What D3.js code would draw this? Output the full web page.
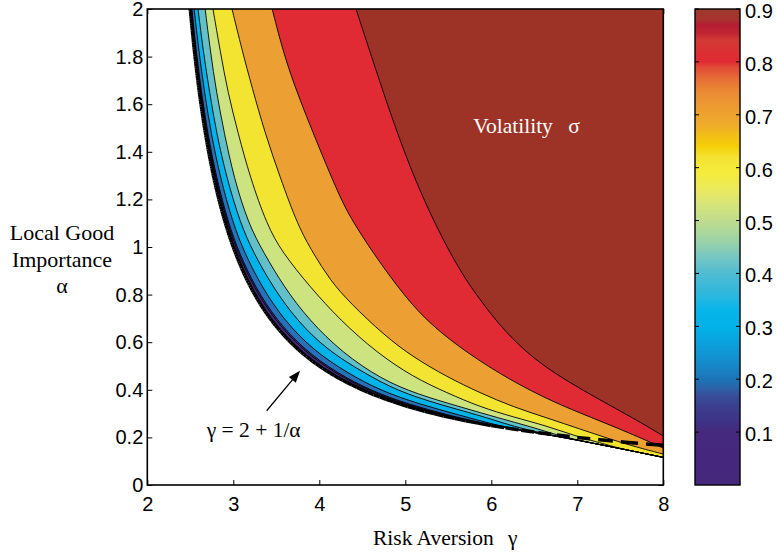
<!DOCTYPE html>
<html><head><meta charset="utf-8">
<script src="https://cdn.jsdelivr.net/npm/d3@7"></script>
<style>body{margin:0;background:#fff}</style></head>
<body><svg id="c" width="776" height="552"></svg>
<script>
// ---------------- data ----------------
const gammaTicks = [2,3,4,5,6,7,8];
const gammaTickLabels = ["2","3","4","5","6","7","8"];
const alphaTicks = [0,0.2,0.4,0.6,0.8,1,1.2,1.4,1.6,1.8,2];
const alphaTickLabels = ["0","0.2","0.4","0.6","0.8","1","1.2","1.4","1.6","1.8","2"];
const cbTicks = [0.1,0.2,0.3,0.4,0.5,0.6,0.7,0.8,0.9];
const cbTickLabels = ["0.1","0.2","0.3","0.4","0.5","0.6","0.7","0.8","0.9"];

// contour lines, [gamma, alpha] pairs, from the top edge downwards
const L0 = [[2.5,2.0],[2.55,1.818],[2.6,1.667],[2.7,1.429],[2.8,1.25],[2.9,1.111],[3.0,1.0],[3.2,0.833],[3.4,0.714],[3.6,0.625],[3.8,0.556],[4.0,0.5],[4.3,0.435],[4.6,0.385],[5.0,0.333],[5.5,0.286],[6.0,0.25],[6.5,0.221],[7.0,0.189],[7.5,0.153],[8.0,0.116]];
const L1 = [[2.512,2.0],[2.560,1.828],[2.622,1.647],[2.693,1.479],[2.792,1.294],[2.930,1.101],[3.053,0.975],[3.236,0.832],[3.481,0.693],[3.806,0.567],[4.175,0.471],[4.581,0.395],[4.998,0.340],[5.459,0.294],[5.8,0.266]];
const L2 = [[2.518,2.0],[2.567,1.828],[2.631,1.647],[2.702,1.479],[2.802,1.294],[2.942,1.101],[3.068,0.975],[3.254,0.832],[3.501,0.693],[3.829,0.567],[4.202,0.471],[4.608,0.395],[5.029,0.340],[5.491,0.294],[5.9,0.260]];
const L3 = [[2.545,2.0],[2.598,1.828],[2.666,1.647],[2.741,1.479],[2.847,1.294],[2.994,1.101],[3.131,0.975],[3.331,0.832],[3.589,0.693],[3.927,0.567],[4.322,0.471],[4.721,0.395],[5.161,0.340],[5.626,0.294],[6.1,0.247]];
const L4 = [[2.590,2.0],[2.648,1.828],[2.725,1.647],[2.805,1.479],[2.920,1.294],[3.080,1.101],[3.235,0.975],[3.460,0.832],[3.735,0.693],[4.090,0.567],[4.520,0.471],[4.910,0.395],[5.380,0.340],[5.850,0.294],[6.2,0.253],[6.5,0.224]];
const L5 = [[2.673,2.0],[2.731,1.828],[2.805,1.647],[2.895,1.479],[3.005,1.294],[3.175,1.097],[3.355,0.975],[3.59,0.832],[3.88,0.693],[4.27,0.555],[4.72,0.445],[5.13,0.382],[5.68,0.324],[6.08,0.282],[6.46,0.245],[6.8,0.206]];
const L6 = [[2.764,2.0],[2.845,1.828],[2.938,1.647],[3.055,1.479],[3.194,1.294],[3.392,1.092],[3.566,0.979],[3.892,0.832],[4.241,0.693],[4.671,0.555],[5.090,0.454],[5.485,0.387],[5.869,0.328],[6.252,0.286],[6.648,0.248],[6.973,0.206],[7.38,0.166]];
const L7 = [[2.985,2.0],[3.101,1.828],[3.217,1.672],[3.368,1.479],[3.543,1.294],[3.752,1.088],[3.927,0.975],[4.124,0.861],[4.357,0.765],[4.764,0.626],[5.089,0.538],[5.485,0.454],[5.869,0.387],[6.252,0.328],[6.648,0.282],[7.031,0.235],[7.380,0.193],[7.729,0.155],[8.0,0.130]];
const L8 = [[3.452,2.0],[3.624,1.756],[3.927,1.479],[4.241,1.206],[4.380,1.113],[4.624,0.975],[4.996,0.790],[5.300,0.672],[5.717,0.555],[6.217,0.441],[6.717,0.349],[7.147,0.286],[7.612,0.218],[8.0,0.155]];
const L9 = [[4.427,2.0],[4.647,1.756],[4.903,1.479],[5.206,1.197],[5.601,0.916],[5.869,0.777],[6.159,0.643],[6.508,0.525],[6.880,0.437],[7.264,0.357],[7.648,0.282],[8.0,0.206]];
const contourLines = [L0,L1,L2,L3,L4,L5,L6,L7,L8,L9];
const bandColors = ["#46287d","#3e3289","#2473b8","#00b4ea","#63c0c9","#cde37f","#f3e431","#eca034","#e02a34","#9d3327"];

// colour bar colour stops [value, colour]
const cbStops = [[0.00,"#46287c"],[0.10,"#44297e"],[0.12,"#3f3386"],[0.15,"#3b3f8f"],[0.17,"#374f9b"],[0.185,"#2a64aa"],[0.195,"#1d70b3"],[0.21,"#1a7cbf"],[0.24,"#1290cf"],[0.27,"#0aa2dd"],[0.30,"#02b2e8"],[0.33,"#06b5ea"],[0.36,"#2eb7de"],[0.40,"#50bcd2"],[0.43,"#75c6c4"],[0.46,"#9ad2a8"],[0.50,"#bfdc8c"],[0.53,"#d6e47a"],[0.56,"#ebea5c"],[0.59,"#f4ec3c"],[0.62,"#f4e232"],[0.64,"#f5cf08"],[0.66,"#f2c015"],[0.68,"#efac2b"],[0.72,"#ec9a33"],[0.75,"#ea8434"],[0.77,"#e66a36"],[0.79,"#e24a36"],[0.80,"#e02a33"],[0.82,"#dc3034"],[0.84,"#d23a34"],[0.855,"#c02432"],[0.87,"#b51d33"],[0.88,"#a8322e"],[0.90,"#9d3a2c"]];

// boundary curve as labelled in the chart: gamma = 2 + 1/alpha, sampled in alpha steps of 0.01
const boundaryAlpha = d3.range(200, 15, -1).map(i => i / 100);
const boundaryGamma = a => 2 + 1 / a;

// annotation positions (data units)
const arrowTail = [3.388, 0.312], arrowTip = [3.776, 0.480];
const boundaryLabelPos = [2.69, 0.20];
const sigmaLabelPos = [5.79, 1.48];

// ---------------- drawing ----------------
const svg = d3.select("#c");
const x = d3.scaleLinear().domain([2, 8]).range([147.3, 663.3]);
const y = d3.scaleLinear().domain([0, 2]).range([485, 9]);
const SANS = "Liberation Sans, Arial, Helvetica, sans-serif";
const SERIF = "Liberation Serif, Times New Roman, serif";

const defs = svg.append("defs");
defs.append("clipPath").attr("id", "clip").append("rect")
  .attr("x", x(2)).attr("y", y(2)).attr("width", x(8) - x(2)).attr("height", y(0) - y(2));

// ticks (beneath the patches)
function styleAxis(g) {
  g.select(".domain").remove();
  g.selectAll(".tick line").attr("stroke", "#000").attr("stroke-width", 1);
  g.attr("font-family", SANS).attr("font-size", 20);
  g.selectAll(".tick text").attr("fill", "#000");
}
svg.append("g").attr("transform", `translate(0,${y(0)})`)
  .call(d3.axisBottom(x).tickValues(gammaTicks).tickSize(-5).tickPadding(12).tickFormat((d, i) => gammaTickLabels[i]))
  .call(styleAxis);
svg.append("g").attr("transform", `translate(${x(2)},0)`)
  .call(d3.axisLeft(y).tickValues(alphaTicks).tickSize(-5).tickPadding(4).tickFormat((d, i) => alphaTickLabels[i]))
  .call(styleAxis);
svg.append("g").attr("transform", `translate(0,${y(2)})`)
  .call(d3.axisTop(x).tickValues(gammaTicks).tickSize(-5).tickFormat(""))
  .call(styleAxis);
svg.append("g").attr("transform", `translate(${x(8)},0)`)
  .call(d3.axisRight(y).tickValues(alphaTicks).tickSize(-5).tickFormat(""))
  .call(styleAxis);

const plot = svg.append("g").attr("clip-path", "url(#clip)");
const line = d3.line().x(d => x(d[0])).y(d => y(d[1])).curve(d3.curveBasis);
function fullPts(L) {
  const last = L[L.length - 1];
  if (last[0] >= 8) return L;
  return L.concat(L0.filter(p => p[0] > last[0] + 1e-9));
}
contourLines.forEach((L, i) => {
  const P = fullPts(L);
  plot.append("path").attr("d", line(P) + `L${x(8.05)},${y(P[P.length - 1][1])}L${x(8.05)},${y(2.05)}L${x(P[0][0])},${y(2.05)}Z`)
    .attr("fill", bandColors[i]).attr("stroke", "none");
});
contourLines.forEach(L => {
  plot.append("path").attr("d", line(fullPts(L))).attr("fill", "none")
    .attr("stroke", "#000").attr("stroke-width", 0.9);
});
// dashed boundary, pattern restarting on each sampled segment
for (let i = 0; i < boundaryAlpha.length - 1; i++) {
  const a0 = boundaryAlpha[i], a1 = boundaryAlpha[i + 1];
  plot.append("path")
    .attr("d", `M${x(boundaryGamma(a0))},${y(a0)}L${x(boundaryGamma(a1))},${y(a1)}`)
    .attr("stroke", "#000").attr("stroke-width", 3.5).attr("fill", "none")
    .attr("stroke-dasharray", "13,8");
}
// frame
svg.append("rect").attr("x", x(2)).attr("y", y(2)).attr("width", x(8) - x(2)).attr("height", y(0) - y(2))
  .attr("fill", "none").attr("stroke", "#000").attr("stroke-width", 1.6);

// text labels
svg.append("text").attr("x", x(sigmaLabelPos[0])).attr("y", y(sigmaLabelPos[1]))
  .attr("font-family", SERIF).attr("font-size", 21.5).attr("fill", "#fff")
  .text("Volatility").append("tspan").attr("x", x(sigmaLabelPos[0]) + 95).text("σ");
svg.append("text").attr("x", x(boundaryLabelPos[0])).attr("y", y(boundaryLabelPos[1]))
  .attr("font-family", SERIF).attr("font-size", 21.5).attr("fill", "#000")
  .text("γ = 2 + 1/α");
// arrow
{
  const tx = x(arrowTail[0]), ty = y(arrowTail[1]), hx = x(arrowTip[0]), hy = y(arrowTip[1]);
  const dx = hx - tx, dy = hy - ty, len = Math.hypot(dx, dy), ux = dx / len, uy = dy / len;
  const hl = 12, hw = 4.5;
  const bx = hx - ux * hl, by = hy - uy * hl;
  svg.append("line").attr("x1", tx).attr("y1", ty).attr("x2", bx + ux * 2).attr("y2", by + uy * 2)
    .attr("stroke", "#000").attr("stroke-width", 1.3);
  svg.append("path").attr("d", `M${hx},${hy}L${bx - uy * hw},${by + ux * hw}L${bx + uy * hw},${by - ux * hw}Z`).attr("fill", "#000");
}
// axis titles
svg.append("text").attr("x", 373).attr("y", 545).attr("font-family", SERIF).attr("font-size", 21.5)
  .text("Risk Aversion").append("tspan").attr("x", 508).text("γ");
const yl = svg.append("text").attr("font-family", SERIF).attr("font-size", 22).attr("text-anchor", "middle");
[["Local Good", 240], ["Importance", 266.5], ["α", 292.5]].forEach(([t, yy]) =>
  yl.append("tspan").attr("x", 62).attr("y", yy).text(t));

// colour bar
const cb = d3.scaleLinear().domain([0, 0.9]).range([485, 9]);
const cbx0 = 695, cbx1 = 740;
const grad = defs.append("linearGradient").attr("id", "cbg").attr("x1", 0).attr("y1", 1).attr("x2", 0).attr("y2", 0);
cbStops.forEach(([v, c]) => grad.append("stop").attr("offset", v / 0.9).attr("stop-color", c));
svg.append("rect").attr("x", cbx0).attr("y", cb(0.9)).attr("width", cbx1 - cbx0).attr("height", cb(0) - cb(0.9))
  .attr("fill", "url(#cbg)");
cbTicks.forEach((v, i) => {
  svg.append("line").attr("x1", cbx0).attr("x2", cbx0 + 4).attr("y1", cb(v)).attr("y2", cb(v)).attr("stroke", "#000");
  svg.append("line").attr("x1", cbx1 - 4).attr("x2", cbx1).attr("y1", cb(v)).attr("y2", cb(v)).attr("stroke", "#000");
  svg.append("text").attr("x", 745).attr("y", cb(v) + 9).attr("font-family", SANS).attr("font-size", 20)
    .text(cbTickLabels[i]);
});
svg.append("rect").attr("x", cbx0).attr("y", cb(0.9)).attr("width", cbx1 - cbx0).attr("height", cb(0) - cb(0.9))
  .attr("fill", "none").attr("stroke", "#000").attr("stroke-width", 1.4);
</script></body></html>
